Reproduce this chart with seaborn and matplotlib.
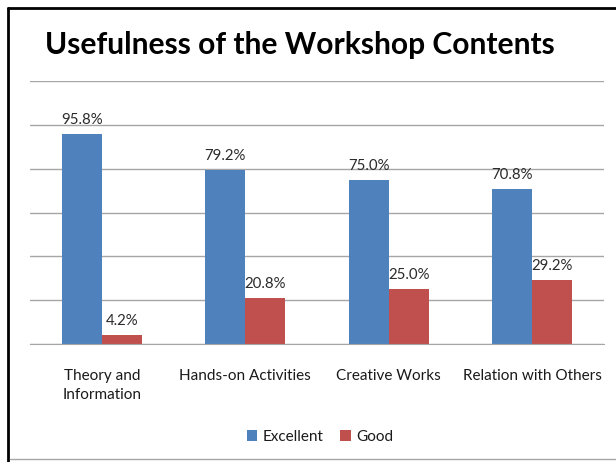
import matplotlib
matplotlib.use('Agg')
import matplotlib.pyplot as plt
import pandas as pd
import seaborn as sns
from matplotlib.lines import Line2D
from matplotlib.patches import Patch

# Data
categories = ['Theory and\nInformation', 'Hands-on Activities', 'Creative Works', 'Relation with Others']
excellent = [95.8, 79.2, 75.0, 70.8]
good = [4.2, 20.8, 25.0, 29.2]
series = ['Excellent', 'Good']
colors = ['#4F81BD', '#C0504D']

df = pd.DataFrame({
    'category': categories * 2,
    'value': excellent + good,
    'rating': [series[0]] * len(categories) + [series[1]] * len(categories),
})

sns.set_style('white')
plt.rcParams['font.family'] = ['Lato', 'DejaVu Sans']

fig = plt.figure(figsize=(6.16, 4.62), dpi=100)
ax = fig.add_axes([30 / 616, 1 - 344 / 462, 574 / 616, 263 / 462])

sns.barplot(data=df, x='category', y='value', hue='rating', order=categories,
            hue_order=series, palette=colors, width=0.557, errorbar=None,
            saturation=1, linewidth=0, ax=ax, legend=False)

# Data labels above bars
for cont in ax.containers:
    ax.bar_label(cont, fmt='%.1f%%', padding=5, fontsize=10.8, color='#2b2b2b')

# Axes styling (Excel-like)
ax.set_ylim(0, 120)
ax.set_xlim(-0.5, len(categories) - 0.5)
ax.set_yticks(range(0, 121, 20))
ax.set_yticklabels([])
ax.tick_params(axis='y', length=0)
ax.yaxis.grid(True, color='#A6A6A6', linewidth=1)
ax.set_axisbelow(True)
for side in ['left', 'right', 'top']:
    ax.spines[side].set_visible(False)
ax.spines['bottom'].set_color('#A6A6A6')
ax.set_xlabel('')
ax.set_ylabel('')
ax.tick_params(axis='x', which='major', length=0, pad=18, labelsize=11, labelcolor='#1a1a1a')
for lbl in ax.get_xticklabels():
    lbl.set_linespacing(1.45)
ax.set_xticks([i - 0.5 for i in range(len(categories) + 1)], minor=True)
ax.tick_params(axis='x', which='minor', length=6, color='#A6A6A6', width=1, direction='out')

# Title
fig.text(300 / 616, 1 - 45 / 462, 'Usefulness of the Workshop Contents',
         ha='center', va='center', fontsize=21.6, fontweight='bold', color='black')

# Legend
handles = [Patch(facecolor=c, edgecolor='none') for c in colors]
fig.legend(handles, series, loc='center', bbox_to_anchor=(320 / 616, 1 - 437 / 462),
           ncol=2, frameon=False, fontsize=11, handlelength=0.7, handleheight=0.7,
           handletextpad=0.35, columnspacing=1.1, labelcolor='#1a1a1a')

# Chart frame border
fig.add_artist(Line2D([8 / 616, 8 / 616], [0, 1 - 8 / 462], transform=fig.transFigure,
                      color='black', linewidth=2))
fig.add_artist(Line2D([8 / 616, 1], [1 - 8 / 462, 1 - 8 / 462], transform=fig.transFigure,
                      color='black', linewidth=2))
fig.add_artist(Line2D([10 / 616, 1], [1 - 459 / 462, 1 - 459 / 462], transform=fig.transFigure,
                      color='#A6A6A6', linewidth=1))

fig.savefig('out.png', dpi=100)
